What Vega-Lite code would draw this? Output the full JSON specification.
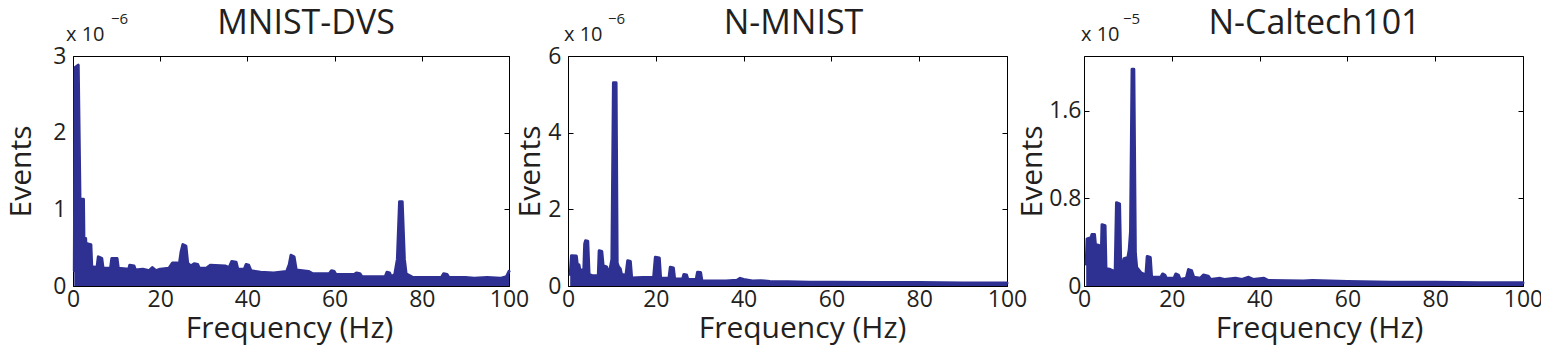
{
  "$schema": "https://vega.github.io/schema/vega-lite/v6.json",
  "background": "white",
  "padding": {"left": 5, "top": 6, "right": 5, "bottom": 5},
  "autosize": {"type": "pad"},
  "datasets": {
    "mnistdvs": [
      {"f":0.3,"v":0.2},{"f":0.5,"v":2.85},{"f":1.2,"v":2.88},{"f":1.6,"v":1.13},{"f":2.4,"v":1.13},{"f":2.5,"v":0.63},{"f":2.9,"v":0.62},{"f":3.0,"v":0.47},{"f":3.3,"v":0.5},{"f":3.4,"v":0.55},{"f":4.1,"v":0.54},{"f":4.3,"v":0.25},{"f":5.5,"v":0.24},{"f":5.8,"v":0.38},{"f":6.6,"v":0.36},{"f":6.9,"v":0.23},{"f":8.6,"v":0.23},{"f":8.9,"v":0.36},{"f":10.1,"v":0.36},{"f":10.4,"v":0.23},{"f":12.8,"v":0.22},{"f":13.0,"v":0.27},{"f":14.0,"v":0.26},{"f":14.3,"v":0.21},{"f":16,"v":0.22},{"f":17.5,"v":0.2},{"f":18.2,"v":0.24},{"f":19,"v":0.2},{"f":20,"v":0.22},{"f":22,"v":0.23},{"f":22.8,"v":0.3},{"f":23.9,"v":0.3},{"f":24.3,"v":0.25},{"f":24.8,"v":0.45},{"f":25.2,"v":0.54},{"f":25.9,"v":0.52},{"f":26.3,"v":0.3},{"f":27,"v":0.26},{"f":27.8,"v":0.29},{"f":28.6,"v":0.28},{"f":29,"v":0.23},{"f":30.5,"v":0.23},{"f":31.5,"v":0.27},{"f":35,"v":0.26},{"f":35.8,"v":0.24},{"f":36.4,"v":0.32},{"f":37.4,"v":0.31},{"f":37.8,"v":0.22},{"f":39.3,"v":0.22},{"f":39.7,"v":0.28},{"f":40.3,"v":0.27},{"f":40.8,"v":0.2},{"f":43,"v":0.18},{"f":46,"v":0.17},{"f":49,"v":0.19},{"f":49.6,"v":0.28},{"f":50.0,"v":0.4},{"f":50.7,"v":0.38},{"f":51.2,"v":0.21},{"f":54,"v":0.19},{"f":55,"v":0.16},{"f":58.8,"v":0.16},{"f":59.3,"v":0.2},{"f":59.9,"v":0.19},{"f":60.3,"v":0.15},{"f":64.5,"v":0.15},{"f":65,"v":0.17},{"f":65.8,"v":0.16},{"f":66.3,"v":0.12},{"f":71.6,"v":0.12},{"f":72,"v":0.18},{"f":72.6,"v":0.17},{"f":73,"v":0.12},{"f":73.8,"v":0.15},{"f":74.4,"v":0.35},{"f":74.9,"v":1.1},{"f":75.5,"v":1.1},{"f":76.0,"v":0.35},{"f":76.4,"v":0.16},{"f":78,"v":0.11},{"f":84.5,"v":0.11},{"f":85,"v":0.16},{"f":85.8,"v":0.15},{"f":86.2,"v":0.11},{"f":90,"v":0.11},{"f":92,"v":0.1},{"f":95,"v":0.11},{"f":98,"v":0.1},{"f":99.4,"v":0.12},{"f":100,"v":0.19}
    ],
    "nmnist": [
      {"f":0.5,"v":0.3},{"f":0.8,"v":0.79},{"f":1.9,"v":0.78},{"f":2.1,"v":0.57},{"f":2.5,"v":0.55},{"f":2.7,"v":0.42},{"f":3.6,"v":0.42},{"f":3.8,"v":1.1},{"f":4.0,"v":1.18},{"f":4.5,"v":1.17},{"f":4.8,"v":0.3},{"f":5.5,"v":0.27},{"f":6.9,"v":0.27},{"f":7.1,"v":0.92},{"f":7.7,"v":0.9},{"f":8.0,"v":0.53},{"f":8.8,"v":0.5},{"f":9.0,"v":0.4},{"f":9.6,"v":0.45},{"f":10.0,"v":0.7},{"f":10.35,"v":5.3},{"f":10.95,"v":5.3},{"f":11.2,"v":0.6},{"f":11.5,"v":0.5},{"f":11.9,"v":0.45},{"f":12.2,"v":0.3},{"f":13.2,"v":0.28},{"f":13.6,"v":0.66},{"f":14.2,"v":0.64},{"f":14.5,"v":0.21},{"f":17,"v":0.22},{"f":19.5,"v":0.22},{"f":19.9,"v":0.75},{"f":20.8,"v":0.73},{"f":21.1,"v":0.2},{"f":23.0,"v":0.2},{"f":23.3,"v":0.49},{"f":24.0,"v":0.47},{"f":24.3,"v":0.18},{"f":26.1,"v":0.18},{"f":26.4,"v":0.3},{"f":27.0,"v":0.29},{"f":27.3,"v":0.17},{"f":29.2,"v":0.17},{"f":29.5,"v":0.36},{"f":30.2,"v":0.35},{"f":30.5,"v":0.14},{"f":33,"v":0.13},{"f":36,"v":0.13},{"f":38.5,"v":0.15},{"f":39.2,"v":0.2},{"f":40.0,"v":0.17},{"f":42,"v":0.13},{"f":44,"v":0.14},{"f":46,"v":0.12},{"f":50,"v":0.11},{"f":55,"v":0.1},{"f":60,"v":0.1},{"f":70,"v":0.09},{"f":80,"v":0.09},{"f":90,"v":0.08},{"f":100,"v":0.08}
    ],
    "ncaltech": [
      {"f":0.5,"v":0.2},{"f":0.7,"v":0.43},{"f":1.6,"v":0.44},{"f":1.8,"v":0.47},{"f":2.4,"v":0.47},{"f":2.6,"v":0.38},{"f":3.4,"v":0.37},{"f":3.6,"v":0.22},{"f":3.9,"v":0.22},{"f":4.1,"v":0.56},{"f":4.8,"v":0.55},{"f":5.0,"v":0.16},{"f":6,"v":0.15},{"f":7.1,"v":0.13},{"f":7.4,"v":0.76},{"f":8.1,"v":0.75},{"f":8.4,"v":0.14},{"f":8.8,"v":0.16},{"f":9.1,"v":0.25},{"f":10.0,"v":0.26},{"f":10.3,"v":0.33},{"f":10.6,"v":0.5},{"f":10.95,"v":1.98},{"f":11.35,"v":1.98},{"f":11.7,"v":0.3},{"f":12.0,"v":0.17},{"f":13,"v":0.12},{"f":14.1,"v":0.1},{"f":14.4,"v":0.27},{"f":15.1,"v":0.26},{"f":15.4,"v":0.08},{"f":17.5,"v":0.08},{"f":17.9,"v":0.11},{"f":18.4,"v":0.1},{"f":18.8,"v":0.07},{"f":20.5,"v":0.07},{"f":20.9,"v":0.11},{"f":21.5,"v":0.1},{"f":21.9,"v":0.06},{"f":23.3,"v":0.07},{"f":23.8,"v":0.15},{"f":24.5,"v":0.14},{"f":25,"v":0.08},{"f":26.5,"v":0.07},{"f":27.2,"v":0.1},{"f":28.3,"v":0.09},{"f":28.8,"v":0.06},{"f":31,"v":0.07},{"f":32,"v":0.06},{"f":34.5,"v":0.07},{"f":36,"v":0.06},{"f":37.5,"v":0.08},{"f":38.5,"v":0.06},{"f":41,"v":0.07},{"f":42,"v":0.05},{"f":50,"v":0.045},{"f":52,"v":0.05},{"f":60,"v":0.04},{"f":70,"v":0.035},{"f":80,"v":0.035},{"f":90,"v":0.03},{"f":100,"v":0.03}
    ],
    "blank": [{"k": 1}]
  },
  "hconcat": [
    {
      "width": 436, "height": 230,
      "title": {"text": "MNIST-DVS", "dx": 15},
      "layer": [
        {
          "data": {"name": "mnistdvs"},
          "mark": {"type": "area", "color": "#2e3192", "opacity": 1},
          "encoding": {
            "x": {"field": "f", "type": "quantitative", "scale": {"domain": [0, 100], "nice": false, "zero": false},
                  "axis": {"orient": "bottom", "values": [0,20,40,60,80,100], "title": "Frequency (Hz)", "titleX": 216, "titleY": 51}},
            "y": {"field": "v", "type": "quantitative", "scale": {"domain": [0, 3], "nice": false},
                  "axis": {"orient": "left", "values": [0,1,2,3], "title": "Events", "titleX": -43, "titleY": 115}}
          }
        },
        {
          "data": {"name": "mnistdvs"},
          "mark": {"type": "line", "color": "#2e3192", "strokeWidth": 3, "strokeJoin": "round", "strokeCap": "round"},
          "encoding": {
            "x": {"field": "f", "type": "quantitative", "axis": {"orient": "top", "values": [0,20,40,60,80,100], "labels": false, "title": null}},
            "y": {"field": "v", "type": "quantitative", "axis": {"orient": "right", "values": [0,1,2,3], "labels": false, "title": null}}
          }
        },
        {
          "data": {"name": "blank"},
          "mark": {"type": "text", "text": "x 10", "align": "left", "baseline": "alphabetic", "fontSize": 20, "dx": -7, "dy": -15, "color": "#231f20"},
          "encoding": {"x": {"datum": 0, "type": "quantitative", "axis": null}, "y": {"datum": 3, "type": "quantitative", "axis": null}}
        },
        {
          "data": {"name": "blank"},
          "mark": {"type": "text", "text": "−6", "align": "left", "baseline": "alphabetic", "fontSize": 15, "dx": 38, "dy": -32, "color": "#231f20"},
          "encoding": {"x": {"datum": 0, "type": "quantitative", "axis": null}, "y": {"datum": 3, "type": "quantitative", "axis": null}}
        }
      ],
      "resolve": {"axis": {"x": "independent", "y": "independent"}}
    },
    {
      "width": 59, "height": 230,
      "view": {"stroke": null},
      "data": {"name": "blank"},
      "mark": {"type": "text", "text": ""},
      "encoding": {}
    },
    {
      "width": 439, "height": 230,
      "title": {"text": "N-MNIST", "dx": 6},
      "layer": [
        {
          "data": {"name": "nmnist"},
          "mark": {"type": "area", "color": "#2e3192", "opacity": 1},
          "encoding": {
            "x": {"field": "f", "type": "quantitative", "scale": {"domain": [0, 100], "nice": false, "zero": false},
                  "axis": {"orient": "bottom", "values": [0,20,40,60,80,100], "title": "Frequency (Hz)", "titleX": 234, "titleY": 51}},
            "y": {"field": "v", "type": "quantitative", "scale": {"domain": [0, 6], "nice": false},
                  "axis": {"orient": "left", "values": [0,2,4,6], "title": "Events", "titleX": -29, "titleY": 115}}
          }
        },
        {
          "data": {"name": "nmnist"},
          "mark": {"type": "line", "color": "#2e3192", "strokeWidth": 3, "strokeJoin": "round", "strokeCap": "round"},
          "encoding": {
            "x": {"field": "f", "type": "quantitative", "axis": {"orient": "top", "values": [0,20,40,60,80,100], "labels": false, "title": null}},
            "y": {"field": "v", "type": "quantitative", "axis": {"orient": "right", "values": [0,2,4,6], "labels": false, "title": null}}
          }
        },
        {
          "data": {"name": "blank"},
          "mark": {"type": "text", "text": "x 10", "align": "left", "baseline": "alphabetic", "fontSize": 20, "dx": -4, "dy": -15, "color": "#231f20"},
          "encoding": {"x": {"datum": 0, "type": "quantitative", "axis": null}, "y": {"datum": 6, "type": "quantitative", "axis": null}}
        },
        {
          "data": {"name": "blank"},
          "mark": {"type": "text", "text": "−6", "align": "left", "baseline": "alphabetic", "fontSize": 15, "dx": 40, "dy": -32, "color": "#231f20"},
          "encoding": {"x": {"datum": 0, "type": "quantitative", "axis": null}, "y": {"datum": 6, "type": "quantitative", "axis": null}}
        }
      ],
      "resolve": {"axis": {"x": "independent", "y": "independent"}}
    },
    {
      "width": 77, "height": 230,
      "view": {"stroke": null},
      "data": {"name": "blank"},
      "mark": {"type": "text", "text": ""},
      "encoding": {}
    },
    {
      "width": 439, "height": 230,
      "title": {"text": "N-Caltech101", "dx": 11},
      "layer": [
        {
          "data": {"name": "ncaltech"},
          "mark": {"type": "area", "color": "#2e3192", "opacity": 1},
          "encoding": {
            "x": {"field": "f", "type": "quantitative", "scale": {"domain": [0, 100], "nice": false, "zero": false},
                  "axis": {"orient": "bottom", "values": [0,20,40,60,80,100], "title": "Frequency (Hz)", "titleX": 235, "titleY": 51}},
            "y": {"field": "v", "type": "quantitative", "scale": {"domain": [0, 2.1], "nice": false},
                  "axis": {"orient": "left", "values": [0,0.8,1.6], "format": "~g", "title": "Events", "titleX": -43, "titleY": 115, "labelPadding": 8}}
          }
        },
        {
          "data": {"name": "ncaltech"},
          "mark": {"type": "line", "color": "#2e3192", "strokeWidth": 3, "strokeJoin": "round", "strokeCap": "round"},
          "encoding": {
            "x": {"field": "f", "type": "quantitative", "axis": {"orient": "top", "values": [0,20,40,60,80,100], "labels": false, "title": null}},
            "y": {"field": "v", "type": "quantitative", "axis": {"orient": "right", "values": [0,0.8,1.6], "labels": false, "title": null}}
          }
        },
        {
          "data": {"name": "blank"},
          "mark": {"type": "text", "text": "x 10", "align": "left", "baseline": "alphabetic", "fontSize": 20, "dx": -3, "dy": -15, "color": "#231f20"},
          "encoding": {"x": {"datum": 0, "type": "quantitative", "axis": null}, "y": {"datum": 2.1, "type": "quantitative", "axis": null}}
        },
        {
          "data": {"name": "blank"},
          "mark": {"type": "text", "text": "−5", "align": "left", "baseline": "alphabetic", "fontSize": 15, "dx": 39, "dy": -32, "color": "#231f20"},
          "encoding": {"x": {"datum": 0, "type": "quantitative", "axis": null}, "y": {"datum": 2.1, "type": "quantitative", "axis": null}}
        }
      ],
      "resolve": {"axis": {"x": "independent", "y": "independent"}}
    }
  ],
  "spacing": 0,
  "bounds": "flush",
  "config": {
    "font": "Open Sans",
    "view": {"stroke": "#000000", "strokeWidth": 1},
    "title": {"font": "Open Sans", "fontSize": 34, "fontWeight": "normal", "color": "#231f20", "offset": -29, "anchor": "middle", "frame": "group", "baseline": "alphabetic"},
    "text": {"font": "Open Sans", "fontWeight": "normal"},
    "axis": {
      "labelFont": "Open Sans", "labelFontSize": 23, "labelColor": "#231f20",
      "titleFont": "Open Sans", "titleFontSize": 30, "titleFontWeight": "normal", "titleColor": "#231f20",
      "titleBaseline": "alphabetic", "titleAngle": 0,
      "grid": false, "domain": false, "tickColor": "#000000", "tickSize": -5, "tickWidth": 1,
      "labelFlush": false, "labelOverlap": false, "labelPadding": 8
    },
    "axisLeft": {"titleAngle": 270, "labelPadding": 12},
    "axisBottom": {"labelPadding": 7}
  }
}
